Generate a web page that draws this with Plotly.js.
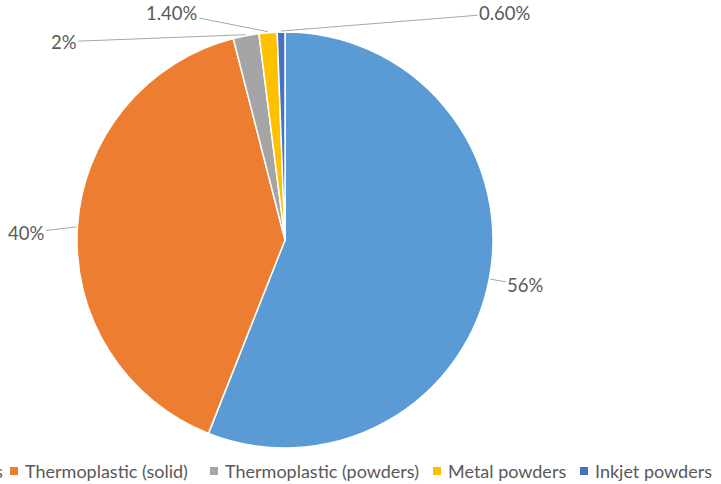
<!DOCTYPE html>
<html>
<head>
<meta charset="utf-8">
<script src="https://cdn.plot.ly/plotly-3.0.1.min.js"></script>
<style>
  html, body { margin: 0; padding: 0; background: #fff; overflow: hidden; }
  #chart { width: 721px; height: 484px; }
</style>
</head>
<body>
<div id="chart"></div>
<script>
// Share of 3D printing materials
const materials = ['Photopolymers', 'Thermoplastic (solid)', 'Thermoplastic (powders)', 'Metal powders', 'Inkjet powders'];
const shares = [56, 40, 2, 1.4, 0.6];
const shareLabels = ['56%', '40%', '2%', '1.40%', '0.60%'];
const sliceColors = ['#5B9BD5', '#ED7D31', '#A5A5A5', '#FFC000', '#4472C4'];

// Figure geometry (px)
const W = 721, H = 484;
const CX = 285, CY = 240, R = 208;
// Offsets of each percentage label from the outer midpoint of its slice (px)
const labelOffsets = [[35, 6], [-50, 6], [-182, 7], [-96, -19], [224, -18]];
// Legend swatch left edges (px); the first entry runs off the left edge
const legendSwatchX = [null, 10, 210, 433, 580];
const legendY = 471;

const labelFont = { family: 'Lato, "Open Sans", sans-serif', size: 18.5, color: '#595959' };
const legendFont = { family: 'Lato, "Open Sans", sans-serif', size: 18, color: '#595959' };

const total = shares.reduce((a, b) => a + b, 0);
const annotations = [];
const shapes = [];

// Percentage labels with leader lines to the slice edges
let cum = 0;
shares.forEach((v, i) => {
  const mid = (cum + v / 2) / total * 2 * Math.PI;
  cum += v;
  const px = CX + (R + 1) * Math.sin(mid);
  const py = CY - (R + 1) * Math.cos(mid);
  annotations.push({
    xref: 'paper', yref: 'paper',
    x: px / W, y: 1 - py / H,
    text: shareLabels[i],
    showarrow: true, arrowhead: 0, arrowwidth: 1, arrowcolor: '#A6A6A6',
    standoff: 0, startstandoff: 0,
    ax: labelOffsets[i][0], ay: labelOffsets[i][1],
    font: labelFont
  });
});

// Legend row along the bottom
materials.forEach((name, i) => {
  const sx = legendSwatchX[i];
  if (sx === null) {
    annotations.push({
      xref: 'paper', yref: 'paper', showarrow: false,
      x: (legendSwatchX[1] - 5) / W, y: 1 - legendY / H,
      xanchor: 'right', yanchor: 'middle',
      text: name, font: legendFont
    });
    return;
  }
  shapes.push({
    type: 'rect', xref: 'paper', yref: 'paper',
    x0: sx / W, x1: (sx + 8) / W,
    y0: 1 - (legendY + 4) / H, y1: 1 - (legendY - 4) / H,
    fillcolor: sliceColors[i], line: { width: 0 }
  });
  annotations.push({
    xref: 'paper', yref: 'paper', showarrow: false,
    x: (sx + 13) / W, y: 1 - legendY / H,
    xanchor: 'left', yanchor: 'middle',
    text: name, font: legendFont
  });
});

const trace = {
  type: 'pie',
  labels: materials,
  values: shares,
  sort: false,
  direction: 'clockwise',
  rotation: 0,
  textinfo: 'none',
  hoverinfo: 'label+percent',
  marker: { colors: sliceColors, line: { color: '#ffffff', width: 1.5 } },
  domain: { x: [(CX - R) / W, (CX + R) / W], y: [1 - (CY + R) / H, 1 - (CY - R) / H] }
};

const layout = {
  width: W, height: H,
  margin: { l: 0, r: 0, t: 0, b: 0, autoexpand: false },
  paper_bgcolor: '#ffffff',
  showlegend: false,
  annotations: annotations,
  shapes: shapes,
  font: labelFont
};

Plotly.newPlot('chart', [trace], layout, { displayModeBar: false, staticPlot: true });
</script>
</body>
</html>
